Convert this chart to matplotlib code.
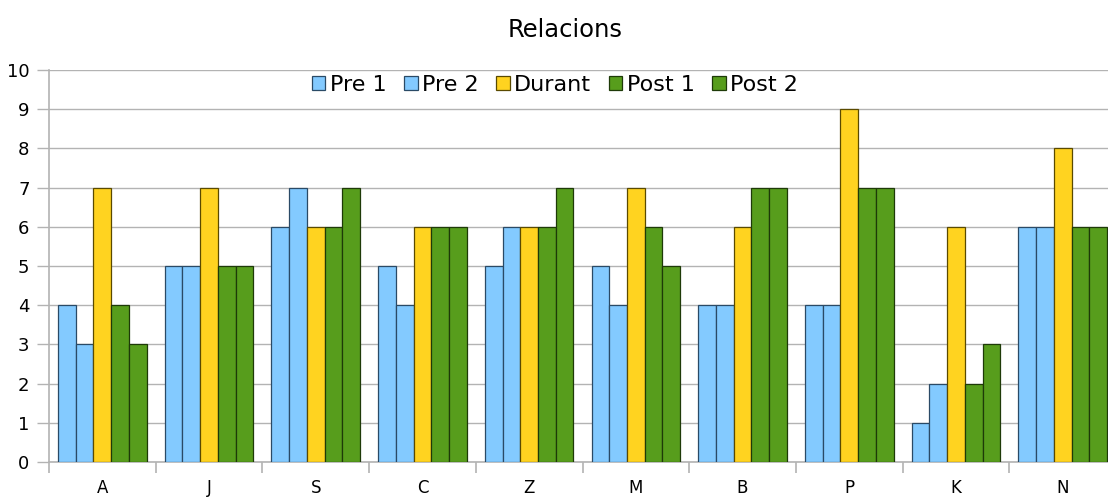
import matplotlib
matplotlib.use("Agg")
import matplotlib.pyplot as plt
import numpy as np

# data
categories = ["A", "J", "S", "C", "Z", "M", "B", "P", "K", "N"]
series_names = ["Pre 1", "Pre 2", "Durant", "Post 1", "Post 2"]
pre1 = [4, 5, 6, 5, 5, 5, 4, 4, 1, 6]
pre2 = [3, 5, 7, 4, 6, 4, 4, 4, 2, 6]
durant = [7, 7, 6, 6, 6, 7, 6, 9, 6, 8]
post1 = [4, 5, 6, 6, 6, 6, 7, 7, 2, 6]
post2 = [3, 5, 7, 6, 7, 5, 7, 7, 3, 6]

colors = ["#83caff", "#83caff", "#ffd320", "#579d1c", "#579d1c"]
edges = ["#2a4a66", "#2a4a66", "#5a4a00", "#1e3a08", "#1e3a08"]

plt.rcParams["font.family"] = "DejaVu Sans"

fig = plt.figure(figsize=(11.08, 5.0), dpi=100)
ax = fig.add_axes([49 / 1108, 38 / 500, 1067 / 1108, 392 / 500])

x = np.arange(len(categories))
bw = 0.166
all_series = [pre1, pre2, durant, post1, post2]
for k, vals in enumerate(all_series):
    ax.bar(x + (k - 2) * bw, vals, width=bw, color=colors[k],
           edgecolor=edges[k], linewidth=0.9, label=series_names[k], zorder=3)

ax.set_xlim(-0.5, len(categories) - 0.5)
ax.set_ylim(0, 10)
ax.set_yticks(range(0, 11))
ax.grid(axis="y", color="#b3b3b3", linewidth=1.0, zorder=0)
ax.set_axisbelow(True)

ax.set_xticks(x)
ax.set_xticklabels(categories)
ax.set_xticks(np.arange(-0.5, len(categories)), minor=True)
ax.tick_params(axis="x", which="major", length=0, pad=12, labelsize=12)
ax.tick_params(axis="x", which="minor", length=8, color="#b3b3b3", width=1.2)
ax.tick_params(axis="y", length=9, color="#b3b3b3", width=1.0, pad=5, labelsize=13)

for s in ["top", "right"]:
    ax.spines[s].set_visible(False)
for s in ["left", "bottom"]:
    ax.spines[s].set_color("#b3b3b3")
    ax.spines[s].set_linewidth(1.2)

fig.text(565 / 1108, 1 - 30 / 500, "Relacions", ha="center", va="center", fontsize=17.5)

fig.legend(loc="center", bbox_to_anchor=(555 / 1108, 1 - 85 / 500), ncol=5,
           frameon=False, fontsize=16, handlelength=0.6, handleheight=0.6,
           handletextpad=0.2, columnspacing=0.8, borderaxespad=0)

fig.savefig("out.png", dpi=100)
